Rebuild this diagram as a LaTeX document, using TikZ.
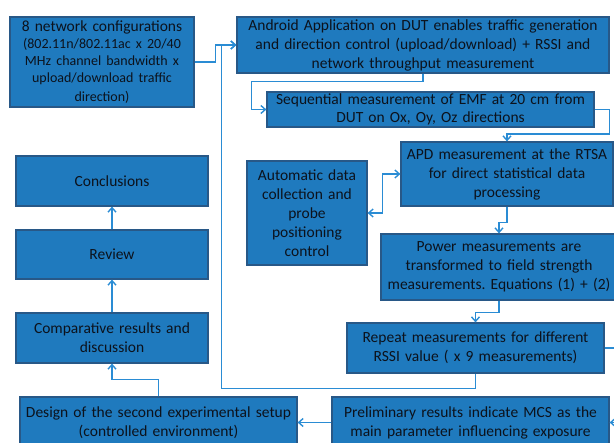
\documentclass[tikz,border=0pt]{standalone}
\usepackage{fontspec}
\setmainfont{Carlito}[WordSpace=0.85]
\usetikzlibrary{arrows.meta}
\definecolor{boxfill}{RGB}{31,122,190}
\definecolor{boxline}{RGB}{40,88,135}
\definecolor{connc}{RGB}{42,140,212}
\definecolor{txt}{RGB}{12,18,28}
\frenchspacing
\begin{document}
\begin{tikzpicture}[x=1pt,y=-1pt,
  box/.style={draw=boxline, fill=boxfill, line width=1.2pt, inner sep=0pt,
    align=center, text=txt, font=\fontsize{15.5}{19}\selectfont},
  conn/.style={draw=connc, line width=1.4pt, -{Straight Barb[length=4.5pt,width=8pt]}},
  dconn/.style={draw=connc, line width=1.4pt, {Straight Barb[length=4.5pt,width=8pt]}-{Straight Barb[length=4.5pt,width=8pt]}}]
\useasboundingbox (0,0) rectangle (614,443);
\clip (0,0) rectangle (614,443);

\node[box, minimum width=184pt, minimum height=90pt, text width=180pt] (A) at (102,62)
  {\fontsize{15.5}{17}\selectfont 8 network configurations\\
   \fontsize{14}{17}\selectfont (802.11n/802.11ac x 20/40\\MHz channel bandwidth x\\upload/download traffic\\direction)};
\node[box, minimum width=372pt, minimum height=56pt, text width=368pt] (B) at (423,45)
  {Android Application on DUT enables traffic generation\\and direction control (upload/download) + RSSI and\\network throughput measurement};
\node[box, minimum width=327pt, minimum height=35pt, text width=323pt, font=\fontsize{15.5}{18}\selectfont] (C) at (430.5,109.5)
  {Sequential measurement of EMF at 20 cm from\\DUT on Ox, Oy, Oz directions};
\node[box, minimum width=212pt, minimum height=64pt, text width=208pt] (D) at (507,174)
  {APD measurement at the RTSA\\for direct statistical data\\processing};
\node[box, minimum width=120pt, minimum height=104pt, text width=116pt] (E) at (307,213)
  {Automatic data\\collection and\\probe\\positioning\\control};
\node[box, minimum width=236pt, minimum height=66pt, text width=232pt] (F) at (499,267)
  {Power measurements are\\transformed to field strength\\measurements. Equations (1) + (2)};
\node[box, minimum width=257pt, minimum height=50pt, text width=253pt] (G) at (475.5,348)
  {Repeat measurements for different\\RSSI value ( x 9 measurements)};
\node[box, minimum width=277pt, minimum height=51pt, text width=273pt] (H) at (470.5,422.5)
  {Preliminary results indicate MCS as the\\main parameter influencing exposure};
\node[box, minimum width=277pt, minimum height=51pt, text width=273pt] (I) at (158.5,422.5)
  {Design of the second experimental setup\\(controlled environment)};
\node[box, minimum width=192pt, minimum height=50pt, text width=188pt] (J) at (112,181)
  {Conclusions};
\node[box, minimum width=192pt, minimum height=49pt, text width=188pt] (K) at (112,254.5)
  {Review};
\node[box, minimum width=192pt, minimum height=50pt, text width=188pt] (L) at (112,338)
  {Comparative results and\\discussion};

\draw[conn] (A.east) -- ++(21,0) |- (B.west);
\draw[conn] (G.south) -- ++(0,15) -| ([xshift=-15pt]B.west) -- (B.west);
\draw[conn] (B.south) -- ++(0,8) -| ([xshift=-15pt]C.west) -- (C.west);
\draw[conn] (C.east) -- ++(15,0) -- ++(0,24.5) -| (D.north);
\draw[dconn] (D.west) -- ++(-18,0) |- (E.east);
\draw[conn] (D.south) -- ++(0,16) -| (F.north);
\draw[conn] (F.south) -- ++(0,12) -| (G.north);
\draw[conn] (G.east) -- ++(16,0) |- (H.east);
\draw[conn] (H.west) -- (I.east);
\draw[conn] (I.north) -- ++(0,-17) -| (L.south);
\draw[conn] (L.north) -- (K.south);
\draw[conn] (K.north) -- (J.south);
\end{tikzpicture}
\end{document}
